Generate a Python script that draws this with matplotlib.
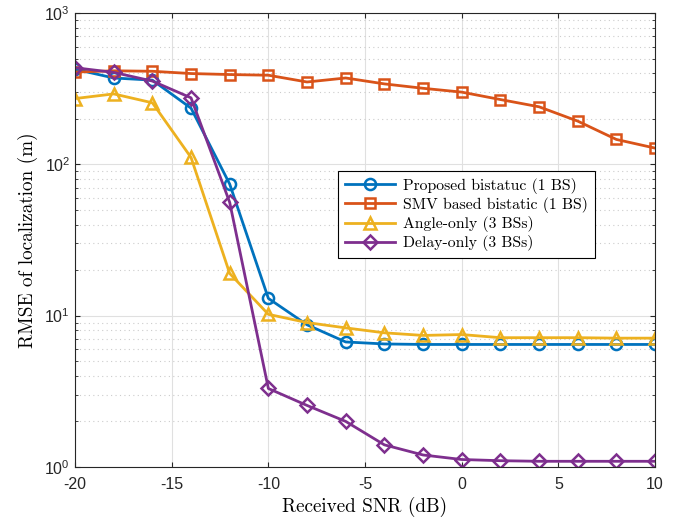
import matplotlib
matplotlib.use("Agg")
import matplotlib.pyplot as plt
import numpy as np

plt.rc("font", family="Liberation Sans", size=11)
plt.rc("axes", unicode_minus=False)
plt.rc("mathtext", fontset="custom", rm="Liberation Sans", it="Liberation Sans")

snr = [-20, -18, -16, -14, -12, -10, -8, -6, -4, -2, 0, 2, 4, 6, 8, 10]
proposed = [425, 372, 360, 235, 74, 13, 8.7, 6.7, 6.5, 6.45, 6.45, 6.45, 6.45, 6.45, 6.45, 6.45]
smv = [407, 415, 412, 398, 392, 388, 350, 372, 340, 318, 300, 268, 240, 193, 146, 128]
angle = [272, 292, 255, 111, 19, 10.2, 9.0, 8.3, 7.7, 7.4, 7.5, 7.15, 7.15, 7.15, 7.1, 7.1]
delay = [435, 405, 355, 275, 56, 3.3, 2.55, 2.0, 1.4, 1.2, 1.12, 1.1, 1.09, 1.09, 1.09, 1.09]

labels = ["Proposed bistatuc (1 BS)", "SMV based bistatic (1 BS)",
          "Angle-only (3 BSs)", "Delay-only (3 BSs)"]
colors = ["#0072BD", "#D95319", "#EDB120", "#7E2F8E"]
markers = ["o", "s", "^", "D"]
msizes = [8, 7.5, 9, 7]

fig = plt.figure(figsize=(6.76, 5.2), dpi=100)
ax = fig.add_axes([0.111, 0.102, 0.858, 0.873])

for ys, lab, c, m, ms in zip([proposed, smv, angle, delay], labels, colors, markers, msizes):
    ax.semilogy(snr, ys, color=c, marker=m, ms=ms, mfc="none", mew=1.8, lw=2, label=lab)

ax.set_xlim(-20, 10)
ax.set_ylim(1, 1000)
ax.set_xticks([-20, -15, -10, -5, 0, 5, 10])
ax.grid(True, which="major", color="#e0e0e0", lw=0.8)
ax.grid(True, which="minor", axis="y", color="#cccccc", ls=(0, (1, 3)), lw=0.8)
ax.tick_params(which="both", direction="in", top=True, right=True, colors="#262626", labelsize=11.5)
ax.tick_params(axis="x", pad=7)
for s in ax.spines.values():
    s.set_color("#262626")

ax.set_xlabel("Received SNR (dB)", family="cmr10", fontsize=13.8, labelpad=4)
ax.set_ylabel("RMSE of localization (m)", family="cmr10", fontsize=13.8, labelpad=5)

leg = ax.legend(loc="upper left", bbox_to_anchor=(0.44, 0.67), prop={"family": "cmr10", "size": 11.3},
                fancybox=False, edgecolor="black", framealpha=1, handlelength=3.2,
                borderpad=0.45, labelspacing=0.2, handletextpad=0.5)
leg.get_frame().set_linewidth(0.8)

fig.savefig("out.png", dpi=100)
